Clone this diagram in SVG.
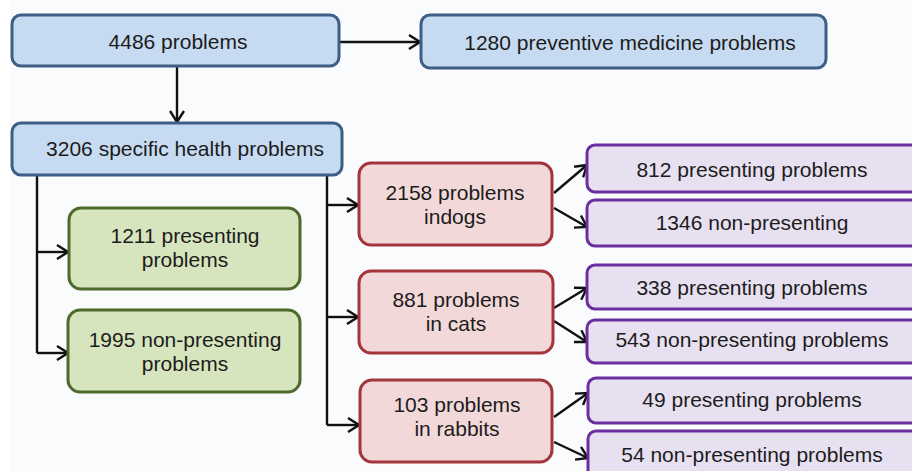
<svg xmlns="http://www.w3.org/2000/svg" width="912" height="471" viewBox="0 0 912 471">
<defs>
<style>
.t{font-family:"Liberation Sans",Arial,sans-serif;font-size:21px;fill:#1c1c1c;text-anchor:middle}
.blue{fill:#c6dbf1;stroke:#3d5f86;stroke-width:3}
.green{fill:#d6e5bd;stroke:#4e6a2c;stroke-width:3}
.red{fill:#f3d8d9;stroke:#a3363d;stroke-width:3}
.purple{fill:#e7e0f0;stroke:#6b2fa0;stroke-width:3}
.c{fill:none;stroke:#111;stroke-width:2.4}
</style>
<marker id="arr" viewBox="0 0 14 16" refX="12" refY="8" markerWidth="14" markerHeight="16" markerUnits="userSpaceOnUse" orient="auto">
<path d="M1,1 L12,8 L1,15" fill="none" stroke="#111" stroke-width="2.4"/>
</marker>
</defs>
<rect x="0" y="0" width="912" height="471" fill="#fafbfc"/>
<rect x="0" y="0" width="10" height="471" fill="#ffffff"/>

<g id="connectors">
<path class="c" d="M339,42 H420" marker-end="url(#arr)"/>
<path class="c" d="M177,67 V122" marker-end="url(#arr)"/>
<path class="c" d="M37,176 V353"/>
<path class="c" d="M37,252 H68" marker-end="url(#arr)"/>
<path class="c" d="M37,353 H68" marker-end="url(#arr)"/>
<path class="c" d="M327,176 V425"/>
<path class="c" d="M327,205 H358" marker-end="url(#arr)"/>
<path class="c" d="M327,317 H358" marker-end="url(#arr)"/>
<path class="c" d="M327,425 H359" marker-end="url(#arr)"/>
<path class="c" d="M554,193 L587,165" marker-end="url(#arr)"/>
<path class="c" d="M554,208 L587,227" marker-end="url(#arr)"/>
<path class="c" d="M554,308 L587,288" marker-end="url(#arr)"/>
<path class="c" d="M554,321 L587,342" marker-end="url(#arr)"/>
<path class="c" d="M554,417 L588,393" marker-end="url(#arr)"/>
<path class="c" d="M554,442 L588,458" marker-end="url(#arr)"/>
</g>

<g id="n4486"><rect class="blue" x="12" y="15" width="327" height="51" rx="9"/><text class="t" x="178" y="49">4486 problems</text></g>
<g id="n1280"><rect class="blue" x="421" y="15" width="405" height="53" rx="9"/><text class="t" x="630" y="50">1280 preventive medicine problems</text></g>
<g id="n3206"><rect class="blue" x="12" y="123" width="330" height="52" rx="9"/><text class="t" x="185" y="156">3206 specific health problems</text></g>

<g id="n1211"><rect class="green" x="69" y="208" width="231" height="81" rx="12"/><text class="t" x="185" y="243">1211 presenting</text><text class="t" x="185" y="267">problems</text></g>
<g id="n1995"><rect class="green" x="68" y="310" width="232" height="82" rx="12"/><text class="t" x="185" y="347">1995 non-presenting</text><text class="t" x="185" y="371">problems</text></g>

<g id="n2158"><rect class="red" x="359" y="163" width="193" height="82" rx="12"/><text class="t" x="455" y="200">2158 problems</text><text class="t" x="455" y="224">indogs</text></g>
<g id="n881"><rect class="red" x="359" y="271" width="194" height="82" rx="12"/><text class="t" x="456" y="307">881 problems</text><text class="t" x="456" y="331">in cats</text></g>
<g id="n103"><rect class="red" x="360" y="380" width="192" height="82" rx="12"/><text class="t" x="457" y="412">103 problems</text><text class="t" x="457" y="436">in rabbits</text></g>

<g id="n812"><rect class="purple" x="587" y="145" width="340" height="47" rx="8"/><text class="t" x="752" y="177">812 presenting problems</text></g>
<g id="n1346"><rect class="purple" x="587" y="200" width="340" height="46" rx="8"/><text class="t" x="752" y="230">1346 non-presenting</text></g>
<g id="n338"><rect class="purple" x="587" y="265" width="340" height="44" rx="8"/><text class="t" x="752" y="295">338 presenting problems</text></g>
<g id="n543"><rect class="purple" x="587" y="320" width="340" height="43" rx="8"/><text class="t" x="752" y="347">543 non-presenting problems</text></g>
<g id="n49"><rect class="purple" x="588" y="378" width="340" height="45" rx="8"/><text class="t" x="752" y="407">49 presenting problems</text></g>
<g id="n54"><rect class="purple" x="588" y="431" width="340" height="50" rx="8"/><text class="t" x="752" y="462">54 non-presenting problems</text></g>
</svg>
